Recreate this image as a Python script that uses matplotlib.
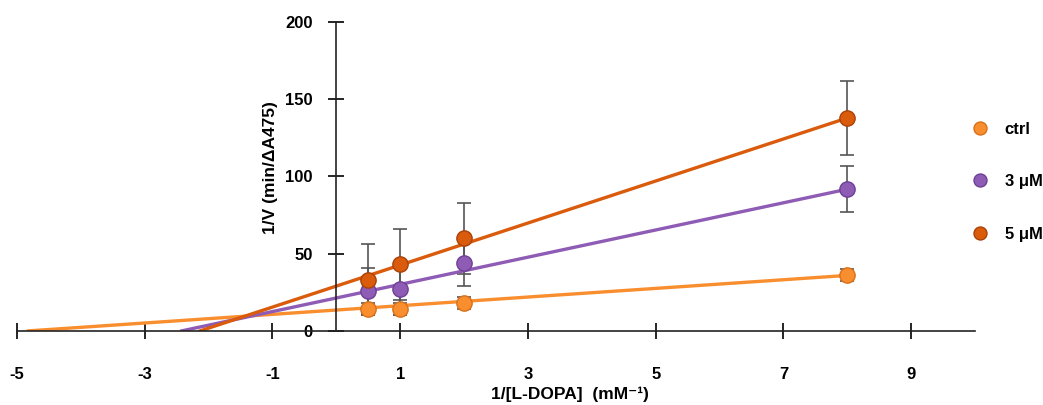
import numpy as np
import matplotlib.pyplot as plt

plt.rcParams['font.family'] = ['Liberation Sans', 'DejaVu Sans']
plt.rcParams['font.weight'] = 'bold'
plt.rcParams['axes.unicode_minus'] = False

# substrate 1/[L-DOPA] (mM^-1)
inv_s = [0.5, 1, 2, 8]

# 1/V for each condition and its error
ctrl = [14, 14, 18, 36]
ctrl_err = [4, 4, 4, 4]
uM3 = [26, 27, 44, 92]
uM3_err = [15, 17, 15, 15]
uM5 = [33, 43, 60, 138]
uM5_err = [23, 23, 23, 24]

# fitted lines: slope, intercept
ctrl_fit = (2.8, 13.5)
uM3_fit = (8.8, 21.3)
uM5_fit = (13.6, 29.0)

labels = ['ctrl', '3 μM', '5 μM']
colors = ['#F98E2F', '#8E5BB5', '#D95B0B']
edges = ['#D9701A', '#6E4094', '#A8420A']

fig = plt.figure(figsize=(10.43, 4.05), dpi=100)
ax = fig.add_axes([0.0163, 0.183, 0.9185, 0.763])

series = [(ctrl, ctrl_err, ctrl_fit), (uM3, uM3_err, uM3_fit), (uM5, uM5_err, uM5_fit)]
handles = []
for i, (vals, err, fit) in enumerate(series):
    m, b = fit
    xs = np.array([-b / m, inv_s[-1]])
    ax.plot(xs, m * xs + b, color=colors[i], lw=2.4, zorder=2)
    ax.errorbar(inv_s, vals, yerr=err, fmt='none', ecolor='#555555',
                elinewidth=1.2, capsize=5, capthick=1.2, zorder=1)
    h, = ax.plot(inv_s, vals, 'o', color=colors[i], ms=11, mec=edges[i], mew=1,
                 zorder=3, label=labels[i])
    handles.append(h)

ax.set_xlim(-5, 10)
ax.set_ylim(0, 200)
ax.spines['left'].set_position(('data', 0))
ax.spines['bottom'].set_position(('data', 0))
ax.spines['top'].set_visible(False)
ax.spines['right'].set_visible(False)
for s in ['left', 'bottom']:
    ax.spines[s].set_linewidth(1.2)
    ax.spines[s].set_color('#222222')

ax.set_xticks([-5, -3, -1, 1, 3, 5, 7, 9])
ax.set_yticks([0, 50, 100, 150, 200])
ax.tick_params(axis='x', direction='inout', length=12, width=1.2, pad=20, labelsize=12)
ax.tick_params(axis='y', direction='inout', length=12, width=1.2, pad=11, labelsize=12)

ax.set_xlabel('1/[L-DOPA]  (mM⁻¹)', fontsize=12.5, fontweight='bold')
ax.xaxis.set_label_coords(0.577, -0.18)
ax.set_ylabel('1/V (min/ΔA475)', fontsize=12.5, fontweight='bold')
ax.yaxis.set_label_coords(0.272, 0.527)

fig.legend(handles=handles, loc='upper left', bbox_to_anchor=(0.933, 0.70),
           frameon=False, labelspacing=2.25, handlelength=0.8, handletextpad=1.1,
           fontsize=12, markerscale=0.85, borderaxespad=0, borderpad=0)

fig.savefig('out.png', dpi=100)
